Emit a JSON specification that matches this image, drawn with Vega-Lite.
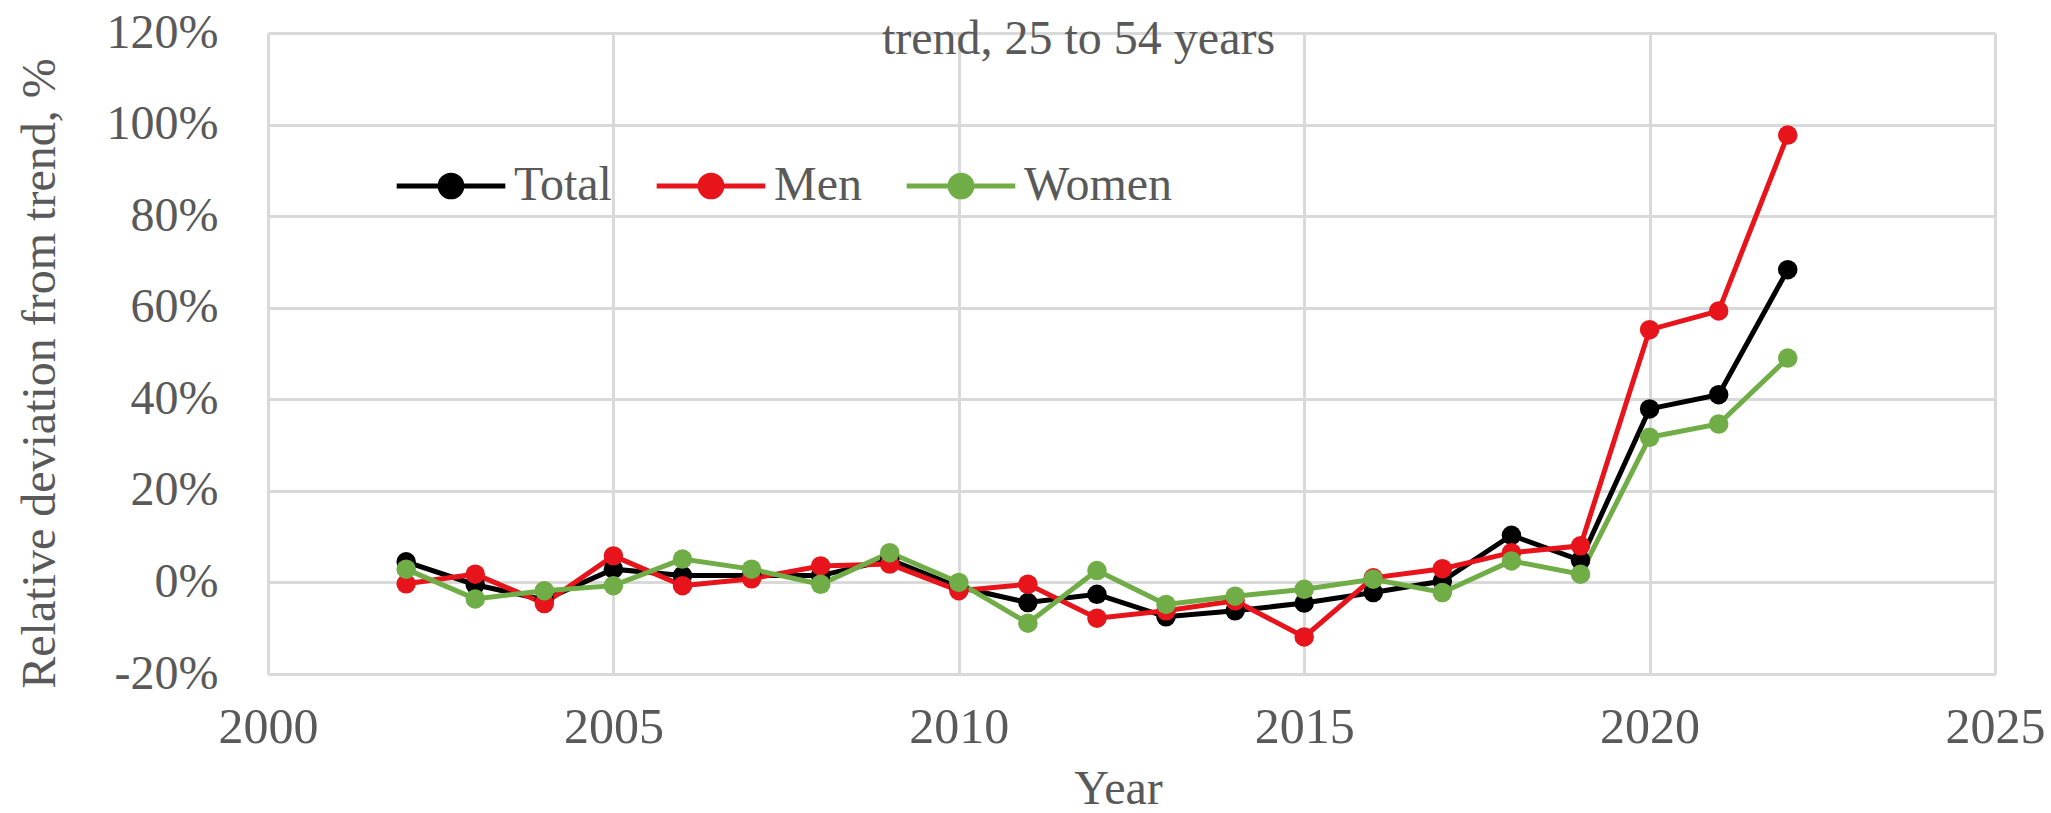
{
  "$schema": "https://vega.github.io/schema/vega-lite/v6.json",
  "autosize": "none",
  "width": 1727,
  "height": 641,
  "padding": {"left": 268, "top": 33, "right": 56, "bottom": 139},
  "background": "white",
  "title": {
    "text": "trend, 25 to 54 years",
    "font": "Liberation Serif",
    "fontSize": 48,
    "fontWeight": "normal",
    "color": "#595959",
    "anchor": "middle",
    "dx": -53,
    "dy": 55,
    "offset": 0
  },
  "config": {
    "view": {"stroke": null},
    "font": "Liberation Serif",
    "axis": {
      "labelFont": "Liberation Serif",
      "titleFont": "Liberation Serif",
      "labelColor": "#595959",
      "titleColor": "#595959",
      "labelFontSize": 48,
      "titleFontSize": 48,
      "titleFontWeight": "normal",
      "gridColor": "#d9d9d9",
      "gridWidth": 3,
      "domain": false,
      "ticks": false
    }
  },
  "data": {
    "values": [
      {"year": 2002, "series": "Total", "value": 0.045},
      {"year": 2003, "series": "Total", "value": -0.005},
      {"year": 2004, "series": "Total", "value": -0.038},
      {"year": 2005, "series": "Total", "value": 0.029},
      {"year": 2006, "series": "Total", "value": 0.015},
      {"year": 2007, "series": "Total", "value": 0.015},
      {"year": 2008, "series": "Total", "value": 0.015},
      {"year": 2009, "series": "Total", "value": 0.05},
      {"year": 2010, "series": "Total", "value": -0.01},
      {"year": 2011, "series": "Total", "value": -0.044},
      {"year": 2012, "series": "Total", "value": -0.026},
      {"year": 2013, "series": "Total", "value": -0.075},
      {"year": 2014, "series": "Total", "value": -0.062},
      {"year": 2015, "series": "Total", "value": -0.045},
      {"year": 2016, "series": "Total", "value": -0.022},
      {"year": 2017, "series": "Total", "value": 0.003},
      {"year": 2018, "series": "Total", "value": 0.103},
      {"year": 2019, "series": "Total", "value": 0.048},
      {"year": 2020, "series": "Total", "value": 0.379},
      {"year": 2021, "series": "Total", "value": 0.41},
      {"year": 2022, "series": "Total", "value": 0.683},
      {"year": 2002, "series": "Men", "value": -0.003},
      {"year": 2003, "series": "Men", "value": 0.018},
      {"year": 2004, "series": "Men", "value": -0.046},
      {"year": 2005, "series": "Men", "value": 0.058},
      {"year": 2006, "series": "Men", "value": -0.007},
      {"year": 2007, "series": "Men", "value": 0.008},
      {"year": 2008, "series": "Men", "value": 0.036},
      {"year": 2009, "series": "Men", "value": 0.04},
      {"year": 2010, "series": "Men", "value": -0.018},
      {"year": 2011, "series": "Men", "value": -0.004},
      {"year": 2012, "series": "Men", "value": -0.078},
      {"year": 2013, "series": "Men", "value": -0.062},
      {"year": 2014, "series": "Men", "value": -0.04},
      {"year": 2015, "series": "Men", "value": -0.119},
      {"year": 2016, "series": "Men", "value": 0.01},
      {"year": 2017, "series": "Men", "value": 0.03},
      {"year": 2018, "series": "Men", "value": 0.065},
      {"year": 2019, "series": "Men", "value": 0.08},
      {"year": 2020, "series": "Men", "value": 0.552},
      {"year": 2021, "series": "Men", "value": 0.593},
      {"year": 2022, "series": "Men", "value": 0.977},
      {"year": 2002, "series": "Women", "value": 0.029},
      {"year": 2003, "series": "Women", "value": -0.036},
      {"year": 2004, "series": "Women", "value": -0.018},
      {"year": 2005, "series": "Women", "value": -0.007},
      {"year": 2006, "series": "Women", "value": 0.051},
      {"year": 2007, "series": "Women", "value": 0.029},
      {"year": 2008, "series": "Women", "value": -0.004},
      {"year": 2009, "series": "Women", "value": 0.065},
      {"year": 2010, "series": "Women", "value": 0.0},
      {"year": 2011, "series": "Women", "value": -0.089},
      {"year": 2012, "series": "Women", "value": 0.026},
      {"year": 2013, "series": "Women", "value": -0.048},
      {"year": 2014, "series": "Women", "value": -0.03},
      {"year": 2015, "series": "Women", "value": -0.015},
      {"year": 2016, "series": "Women", "value": 0.007},
      {"year": 2017, "series": "Women", "value": -0.022},
      {"year": 2018, "series": "Women", "value": 0.047},
      {"year": 2019, "series": "Women", "value": 0.018},
      {"year": 2020, "series": "Women", "value": 0.317},
      {"year": 2021, "series": "Women", "value": 0.346},
      {"year": 2022, "series": "Women", "value": 0.49}
    ]
  },
  "encoding": {
    "x": {
      "field": "year",
      "type": "quantitative",
      "scale": {"domain": [2000, 2025], "nice": false, "zero": false},
      "axis": {
        "values": [2000, 2005, 2010, 2015, 2020, 2025],
        "format": "d",
        "title": "Year",
        "labelFontSize": 50,
        "labelFlush": false,
        "labelPadding": 28,
        "titleX": 850,
        "titleY": 115,
        "titleBaseline": "middle",
        "titleAlign": "center",
        "grid": true
      }
    },
    "y": {
      "field": "value",
      "type": "quantitative",
      "scale": {"domain": [-0.2, 1.2], "nice": false, "zero": false},
      "axis": {
        "values": [-0.2, 0, 0.2, 0.4, 0.6, 0.8, 1.0, 1.2],
        "labelExpr": "(datum.value < -0.0001 ? '-' : '') + format(abs(datum.value) * 100, '.0f') + '%'",
        "title": "Relative deviation from trend, %",
        "labelPadding": 50,
        "titleX": -228,
        "titleY": 340,
        "titleAngle": 270,
        "titleBaseline": "middle",
        "titleAlign": "center",
        "grid": true
      }
    },
    "color": {
      "field": "series",
      "type": "nominal",
      "sort": ["Total", "Men", "Women"],
      "scale": {"domain": ["Total", "Men", "Women"], "range": ["#000000", "#e8141b", "#70ad47"]},
      "legend": {
        "title": null,
        "orient": "none",
        "direction": "horizontal",
        "legendX": 126,
        "legendY": 96,
        "symbolType": "M-1,0H1M-0.2,0A0.2,0.2 0 1,1 0.2,0A0.2,0.2 0 1,1 -0.2,0",
        "symbolSize": 11800,
        "symbolStrokeWidth": 5,
        "labelFont": "Liberation Serif",
        "labelFontSize": 48,
        "labelColor": "#595959",
        "labelOffset": 6,
        "columnPadding": 34
      }
    },
    "order": {"field": "year"}
  },
  "layer": [
    {"mark": {"type": "line", "strokeWidth": 5}},
    {"mark": {"type": "point", "filled": true, "size": 380, "opacity": 1}}
  ]
}
